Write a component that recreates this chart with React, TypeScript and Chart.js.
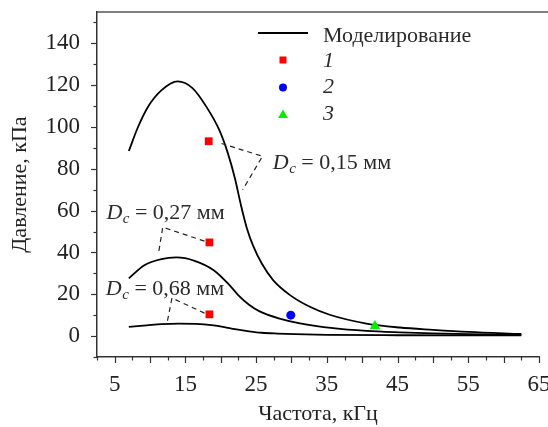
import React, { useEffect, useRef } from 'react';
import { Chart, registerables } from 'chart.js';

Chart.register(...registerables);

const FONT = "'Liberation Serif', 'Times New Roman', serif";

// Modelled curves (frequency, kHz -> pressure, kPa)
const freq015 = [7, 8.3, 9.7, 11.6, 13.9, 16.0, 18.0, 19.8, 21.0, 22.0, 22.9, 23.7, 24.6, 25.8, 27.4, 29.8, 32.6, 35.4, 40.6, 45.3, 50, 55, 62.5];
const pres015 = [88.5, 100, 109.6, 117.5, 121.8, 118.6, 109.5, 98.5, 87.5, 75.5, 62.0, 51.5, 43.0, 34.7, 26.8, 19.6, 14.0, 10.2, 6.0, 4.1, 3.0, 2.0, 1.0];

const freq027 = [7, 9.2, 11.6, 13.7, 16.3, 19.0, 21.2, 22.5, 24.0, 25.5, 28.2, 31.2, 35.9, 40.6, 45.3, 50, 55, 62.5];
const pres027 = [27.6, 33.9, 36.8, 37.6, 36.0, 31.5, 24.5, 19.5, 15.0, 11.8, 8.5, 6.1, 3.8, 2.5, 1.8, 1.3, 0.9, 0.6];

const freq068 = [7, 9.5, 11.6, 14, 16.5, 18.7, 20.5, 22, 24, 25.8, 28, 30.5, 35, 45, 62.5];
const pres068 = [4.4, 5.1, 5.7, 6.0, 5.8, 5.2, 4.3, 3.3, 2.3, 1.6, 1.2, 0.9, 0.6, 0.4, 0.3];

// Experimental points
const exp1Freq = [18.3, 18.4, 18.4];
const exp1Pres = [93.2, 44.8, 10.4];
const exp2Freq = [29.9];
const exp2Pres = [10.0];
const exp3Freq = [41.8];
const exp3Pres = [4.8];

// Axis ticks
const xLabeled = [5, 15, 25, 35, 45, 55, 65];
const yLabeled = [0, 20, 40, 60, 80, 100, 120, 140];

const legendModel = 'Моделирование';
const legendPoints = ['1', '2', '3'];

// Annotations: label, text anchor (data), dashed leader path (data)
const annLabels = ['0,15 мм', '0,27 мм', '0,68 мм'];
const annTextX = [27.36, 3.83, 3.75];
const annTextY = [80.1, 56.2, 19.6];
const annPathX = [
  [20.1, 25.9, 23.1],
  [17.7, 11.8, 11.2],
  [17.7, 13.1, 12.4],
];
const annPathY = [
  [92.1, 86.0, 70.0],
  [45.4, 52.1, 39.7],
  [11.0, 18.2, 6.2],
];

const zip = (xs: number[], ys: number[]) => xs.map((x, i) => ({ x, y: ys[i] }));

const overlay = {
  id: 'overlay',
  afterDraw(chart: any) {
    const { ctx, chartArea: ca } = chart;
    const xs = chart.scales.x;
    const ys = chart.scales.y;
    ctx.save();
    // top frame line
    ctx.strokeStyle = '#555';
    ctx.lineWidth = 1.5;
    ctx.beginPath();
    ctx.moveTo(ca.left, ca.top);
    ctx.lineTo(chart.width, ca.top);
    ctx.stroke();

    // tick marks
    ctx.strokeStyle = '#333';
    ctx.lineWidth = 1.2;
    xs.ticks.forEach((t: any) => {
      const px = Math.round(xs.getPixelForValue(t.value)) + 0.5;
      const len = t.value % 5 === 0 ? 6 : 3.5;
      ctx.beginPath();
      ctx.moveTo(px, ca.bottom);
      ctx.lineTo(px, ca.bottom + len);
      ctx.stroke();
    });
    ys.ticks.forEach((t: any) => {
      const py = Math.round(ys.getPixelForValue(t.value)) + 0.5;
      const len = t.value % 20 === 0 ? 6 : 3.5;
      ctx.beginPath();
      ctx.moveTo(ca.left, py);
      ctx.lineTo(ca.left - len, py);
      ctx.stroke();
    });

    // annotations
    ctx.strokeStyle = '#222';
    ctx.lineWidth = 1.2;
    ctx.setLineDash([5, 4]);
    annPathX.forEach((px, i) => {
      ctx.beginPath();
      px.forEach((vx, j) => {
        const X = xs.getPixelForValue(vx);
        const Y = ys.getPixelForValue(annPathY[i][j]);
        if (j === 0) ctx.moveTo(X, Y);
        else ctx.lineTo(X, Y);
      });
      ctx.stroke();
    });
    ctx.setLineDash([]);
    ctx.fillStyle = '#2a2a2a';
    ctx.textBaseline = 'alphabetic';
    ctx.textAlign = 'left';
    annLabels.forEach((lab, i) => {
      let X = xs.getPixelForValue(annTextX[i]);
      const Y = ys.getPixelForValue(annTextY[i]);
      ctx.font = `italic 22px ${FONT}`;
      ctx.fillText('D', X, Y);
      X += ctx.measureText('D').width + 0.5;
      ctx.font = `italic 15px ${FONT}`;
      ctx.fillText('c', X, Y + 4);
      X += ctx.measureText('c').width;
      ctx.font = `22px ${FONT}`;
      ctx.fillText(' = ' + lab, X, Y);
    });

    // legend
    const lx = 258, lw = 50, tx = 323;
    ctx.strokeStyle = '#000';
    ctx.lineWidth = 1.8;
    ctx.beginPath();
    ctx.moveTo(lx, 33);
    ctx.lineTo(lx + lw, 33);
    ctx.stroke();
    ctx.fillStyle = '#2a2a2a';
    ctx.font = `22px ${FONT}`;
    ctx.fillText(legendModel, tx, 41.5);
    const cx = lx + lw / 2;
    ctx.fillStyle = '#ff0000';
    ctx.fillRect(cx - 3.5, 60 - 3.5, 7, 7);
    ctx.fillStyle = '#0000ff';
    ctx.beginPath();
    ctx.arc(cx, 87.5, 4, 0, Math.PI * 2);
    ctx.fill();
    ctx.fillStyle = '#00ee00';
    ctx.beginPath();
    ctx.moveTo(cx, 109.5);
    ctx.lineTo(cx + 4.8, 118);
    ctx.lineTo(cx - 4.8, 118);
    ctx.closePath();
    ctx.fill();
    ctx.fillStyle = '#2a2a2a';
    ctx.font = `italic 22px ${FONT}`;
    const baselines = [66.7, 92.7, 120];
    legendPoints.forEach((p, i) => ctx.fillText(p, tx, baselines[i]));
    ctx.restore();
  },
};

export default function App() {
  const ref = useRef<HTMLCanvasElement>(null);
  useEffect(() => {
    if (!ref.current) return;
    Chart.defaults.font.family = FONT;
    const curve = (xs: number[], ys: number[]) => ({
      type: 'scatter' as const,
      data: zip(xs, ys),
      showLine: true,
      borderColor: '#000',
      borderWidth: 1.8,
      pointRadius: 0,
      cubicInterpolationMode: 'monotone' as const,
      fill: false,
      order: 2,
    });
    const chart = new Chart(ref.current, {
      type: 'scatter',
      data: {
        datasets: [
          curve(freq015, pres015),
          curve(freq027, pres027),
          curve(freq068, pres068),
          {
            data: zip(exp1Freq, exp1Pres),
            pointStyle: 'rect',
            pointRadius: 5.5,
            backgroundColor: '#ff0000',
            borderWidth: 0,
            order: 1,
          } as any,
          {
            data: zip(exp2Freq, exp2Pres),
            pointStyle: 'circle',
            pointRadius: 4.5,
            backgroundColor: '#0000ff',
            borderWidth: 0,
            order: 1,
          } as any,
          {
            data: zip(exp3Freq, exp3Pres),
            pointStyle: 'triangle',
            pointRadius: 6,
            backgroundColor: '#00ee00',
            borderWidth: 0,
            order: 1,
          } as any,
        ],
      },
      options: {
        responsive: false,
        animation: false,
        devicePixelRatio: 1,
        layout: { padding: { top: 12, right: 9, left: 0, bottom: 0 } },
        plugins: { legend: { display: false }, tooltip: { enabled: false } },
        scales: {
          x: {
            type: 'linear',
            min: 2.5,
            max: 65,
            afterFit: (s: any) => {
              s.height = 70;
              s.paddingLeft = 0;
              s.paddingRight = 0;
            },
            border: { display: true, color: '#333', width: 1.5 },
            grid: { display: true, drawOnChartArea: false, drawTicks: true, tickLength: 6, tickColor: 'rgba(0,0,0,0)' },
            ticks: {
              stepSize: 2.5,
              autoSkip: false,
              maxRotation: 0,
              includeBounds: false,
              padding: 8,
              color: '#222',
              font: { size: 23, family: FONT },
              callback: (v: any) => (xLabeled.includes(Number(v)) ? String(v) : ''),
            },
            title: {
              display: true,
              text: 'Частота, кГц',
              color: '#222',
              font: { size: 22, family: FONT },
              padding: { top: 0, bottom: 0 },
            },
          },
          y: {
            type: 'linear',
            min: -10,
            max: 155,
            afterFit: (s: any) => {
              s.width = 97;
              s.paddingTop = 0;
              s.paddingBottom = 0;
            },
            border: { display: true, color: '#333', width: 1.5 },
            grid: { display: true, drawOnChartArea: false, drawTicks: true, tickLength: 6, tickColor: 'rgba(0,0,0,0)' },
            ticks: {
              stepSize: 10,
              autoSkip: false,
              includeBounds: false,
              padding: 11,
              color: '#222',
              font: { size: 23, family: FONT },
              callback: (v: any) => (yLabeled.includes(Number(v)) ? String(v) : ''),
            },
            title: {
              display: true,
              text: 'Давление, кПа',
              color: '#222',
              font: { size: 22, family: FONT },
              padding: { top: 7, bottom: 0 },
            },
          },
        },
      },
      plugins: [overlay],
    } as any);
    return () => chart.destroy();
  }, []);
  return (
    <div style={{ position: 'fixed', left: 0, top: 0, width: 548, height: 427, background: '#fff' }}>
      <canvas ref={ref} width={548} height={427} />
    </div>
  );
}
